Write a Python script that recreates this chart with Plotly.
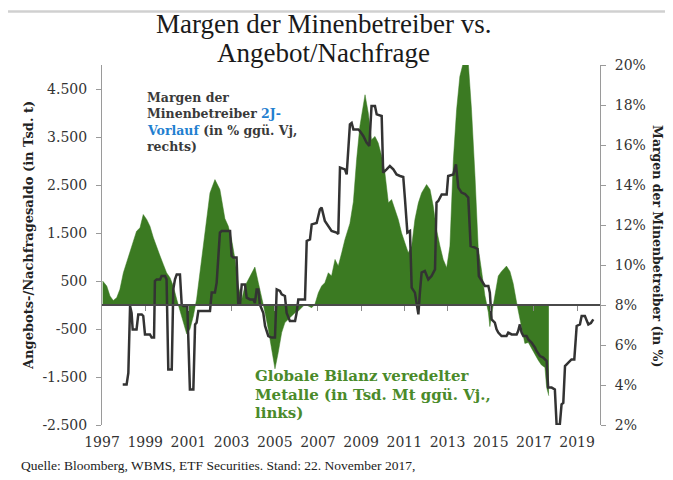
import plotly.graph_objects as go

# ---- data -------------------------------------------------------------
# Global balance of refined metals (thousand t, y/y), left axis
green_years = [1997.03, 1997.22, 1997.37, 1997.52, 1997.68, 1997.83, 1997.99, 1998.14, 1998.30, 1998.45,
               1998.60, 1998.76, 1998.91, 1999.07, 1999.22, 1999.38, 1999.53, 1999.69, 1999.84, 1999.99,
               2000.15, 2000.30, 2000.46, 2000.61, 2000.77, 2000.92, 2001.07, 2001.23, 2001.38, 2001.54,
               2001.69, 2001.85, 2002.00, 2002.23, 2002.46, 2002.69, 2002.85, 2003.00, 2003.16, 2003.31,
               2003.47, 2003.62, 2003.77, 2003.93, 2004.08, 2004.24, 2004.39, 2004.55, 2004.70, 2004.85,
               2005.01, 2005.16, 2005.32, 2005.47, 2005.63, 2005.78, 2005.94, 2006.09, 2006.24, 2006.40,
               2006.55, 2006.71, 2006.86, 2007.02, 2007.17, 2007.32, 2007.48, 2007.63, 2007.79, 2007.94,
               2008.10, 2008.25, 2008.48, 2008.64, 2008.79, 2008.94, 2009.18, 2009.33, 2009.48, 2009.64,
               2009.79, 2009.95, 2010.10, 2010.26, 2010.41, 2010.56, 2010.72, 2010.87, 2011.03, 2011.18,
               2011.34, 2011.49, 2011.65, 2011.80, 2012.03, 2012.19, 2012.34, 2012.49, 2012.65, 2012.80,
               2012.96, 2013.11, 2013.27, 2013.42, 2013.57, 2013.73, 2013.96, 2014.11, 2014.27, 2014.35,
               2014.42, 2014.58, 2014.73, 2014.89, 2014.96, 2015.04, 2015.12, 2015.19, 2015.35, 2015.50,
               2015.73, 2015.89, 2016.04, 2016.20, 2016.27, 2016.43, 2016.58, 2016.74, 2016.89, 2017.05,
               2017.20, 2017.35, 2017.51, 2017.59, 2017.66, 2017.69]
green_values = [500, 395, 187, 95, 152, 326, 672, 880, 1088, 1330,
                1538, 1608, 1885, 1781, 1642, 1400, 1192, 1019, 845, 672,
                568, 395, 118, -125, -367, -600, -506, -229, 118, 672,
                1227, 1850, 2335, 2612, 2405, 1800, 1640, 1365, 950, 395,
                118, 395, 534, 672, 790, 464, 187, -160, -506, -922,
                -1330, -991, -575, -367, -298, -229, -160, -125, -55, 14,
                -20, -55, 14, 256, 395, 464, 672, 603, 950, 810,
                1088, 1365, 1700, 2150, 3028, 3721, 4380, 4000, 3444, 3513,
                3375, 3098, 2751, 2128, 2197, 1989, 1781, 1504, 1261, 1088,
                1227, 1781, 2128, 2335, 2509, 2405, 2058, 1573, 1227, 950,
                776, 1227, 3028, 4068, 4760, 5050, 5050, 4068, 2700, 1800,
                1200, 700, 200, -150, -450, -200, 0, 200, 603, 700,
                810, 700, 450, 50, -100, -437, -800, -780, -900, -1050,
                -1150, -1250, -1300, -1719, -1892, -1892]

# Mining margins, 2-year lead (% y/y), right axis
margin_years = [1997.96, 1998.14, 1998.22, 1998.30, 1998.37, 1998.42, 1998.60, 1998.68, 1998.84, 1998.91,
                1998.99, 1999.22, 1999.30, 1999.41, 1999.45, 1999.53, 1999.69, 1999.76, 1999.92, 1999.99,
                2000.07, 2000.23, 2000.30, 2000.38, 2000.46, 2000.61, 2000.69, 2000.77, 2000.95, 2001.00,
                2001.07, 2001.23, 2001.31, 2001.38, 2001.46, 2002.00, 2002.08, 2002.23, 2002.31, 2002.46,
                2002.54, 2002.93, 2003.00, 2003.08, 2003.23, 2003.31, 2003.39, 2003.47, 2003.62, 2003.70,
                2003.85, 2004.01, 2004.08, 2004.16, 2004.24, 2004.31, 2004.47, 2004.55, 2004.70, 2004.85,
                2005.01, 2005.09, 2005.24, 2005.32, 2005.47, 2005.55, 2005.70, 2005.94, 2006.01, 2006.09,
                2006.40, 2006.48, 2006.63, 2006.71, 2006.94, 2007.09, 2007.17, 2007.32, 2007.48, 2007.63,
                2007.86, 2007.94, 2008.02, 2008.25, 2008.33, 2008.48, 2008.56, 2008.64, 2008.87, 2008.94,
                2009.10, 2009.25, 2009.38, 2009.48, 2009.64, 2009.72, 2009.95, 2010.02, 2010.18, 2010.33,
                2010.49, 2010.64, 2010.80, 2010.95, 2011.03, 2011.14, 2011.26, 2011.34, 2011.49, 2011.57,
                2011.65, 2011.72, 2011.80, 2011.95, 2012.11, 2012.26, 2012.42, 2012.49, 2012.57, 2012.73,
                2012.96, 2013.03, 2013.27, 2013.39, 2013.50, 2013.65, 2013.81, 2013.96, 2014.07, 2014.27,
                2014.39, 2014.45, 2014.58, 2014.73, 2014.89, 2014.96, 2015.04, 2015.19, 2015.27, 2015.35,
                2015.50, 2015.73, 2015.81, 2015.97, 2016.20, 2016.27, 2016.35, 2016.43, 2016.51, 2016.66,
                2016.74, 2016.89, 2017.05, 2017.12, 2017.28, 2017.43, 2017.59, 2017.66, 2017.82, 2017.97,
                2018.05, 2018.20, 2018.28, 2018.36, 2018.44, 2018.59, 2018.74, 2018.87, 2018.98, 2019.13,
                2019.21, 2019.36, 2019.44, 2019.52, 2019.64, 2019.75]
margin_values = [4.03, 4.03, 4.6, 7.95, 7.6, 6.78, 6.78, 7.53, 7.53, 7.45,
                 6.53, 6.53, 6.37, 6.37, 9.2, 9.28, 9.28, 9.45, 9.45, 9.28,
                 4.78, 4.78, 8.78, 9.28, 9.53, 9.53, 8.03, 7.95, 7.95, 6.0,
                 3.78, 3.78, 7.03, 7.12, 7.7, 7.7, 8.62, 8.62, 9.12, 11.62,
                 11.7, 11.7, 10.45, 10.37, 10.37, 8.03, 8.03, 9.03, 9.03, 8.37,
                 8.28, 8.28, 8.1, 8.78, 8.78, 8.03, 7.6, 6.95, 6.45, 6.37,
                 6.37, 8.78, 8.7, 8.53, 8.45, 7.6, 7.2, 7.2, 7.6, 8.28,
                 8.28, 11.2, 11.28, 12.03, 12.1, 12.78, 12.87, 12.2, 11.95, 11.7,
                 11.62, 11.55, 14.87, 14.78, 14.53, 17.03, 17.1, 16.78, 16.78, 16.7,
                 16.45, 16.12, 15.95, 17.95, 17.95, 17.53, 17.45, 14.62, 14.78, 14.95,
                 14.78, 14.53, 14.45, 14.4, 13.28, 11.62, 11.7, 8.87, 8.62, 8.0,
                 7.53, 8.62, 9.62, 9.7, 9.28, 9.45, 9.78, 13.12, 13.2, 13.53,
                 13.53, 14.45, 14.53, 15.03, 13.87, 13.62, 13.55, 13.37, 10.95, 10.87,
                 10.8, 9.45, 9.2, 8.95, 8.95, 8.62, 7.28, 7.12, 6.78, 6.62,
                 6.45, 6.45, 6.62, 6.53, 6.53, 6.7, 7.03, 6.62, 6.45, 6.45,
                 6.28, 6.12, 5.87, 5.7, 5.45, 5.37, 5.2, 3.87, 3.87, 3.78,
                 2.03, 2.03, 3.03, 3.1, 4.95, 5.12, 5.28, 5.28, 6.95, 7.03,
                 7.45, 7.45, 7.2, 7.03, 7.1, 7.28]

year_ticks = list(range(1997, 2020, 2))
year_tick_text = [str(y) for y in year_ticks]
left_ticks = [-2500, -1500, -500, 500, 1500, 2500, 3500, 4500]
left_tick_text = ["-2.500", "-1.500", "-500", "500", "1.500", "2.500", "3.500", "4.500"]
right_ticks = list(range(2, 21, 2))
right_tick_text = [f"{v}%" for v in right_ticks]

x_range = [1997, 2020.06]
left_range = [-2500, 5000]
right_range = [2, 20]

# ---- styles -------------------------------------------------------------
GREEN = "#3b7a22"
GREEN_TXT = "#4a8a2a"
DARK = "#333333"
BLUE = "#1f80d0"
AXIS = "#9a9a9a"
TICK_FONT = dict(family="DejaVu Serif", size=14, color="#333333")
SERIF = "Liberation Serif"
BOLD_SERIF = "DejaVu Serif"

fig = go.Figure()

fig.add_trace(go.Scatter(
    x=green_years, y=green_values, mode="lines", fill="tozeroy",
    fillcolor=GREEN, line=dict(color=GREEN, width=0.5),
    hoverinfo="skip", showlegend=False))

# invisible helper on x2 so the zero-line axis is drawn
fig.add_trace(go.Scatter(
    x=[year_ticks[0], year_ticks[-1]], y=[0, 0], xaxis="x2", yaxis="y",
    mode="lines", line=dict(width=0), hoverinfo="skip", showlegend=False))

fig.add_trace(go.Scatter(
    x=margin_years, y=margin_values, yaxis="y2", mode="lines",
    line=dict(color=DARK, width=2.5), hoverinfo="skip", showlegend=False))

# the page body adds an 8px offset, so the figure is drawn 8px smaller
fig.update_layout(
    width=665, height=472,
    margin=dict(l=94, r=73, t=57, b=55),
    paper_bgcolor="white", plot_bgcolor="white",
    showlegend=False,
    xaxis=dict(range=x_range, tickvals=year_ticks, ticktext=year_tick_text,
               showgrid=False, zeroline=False, showline=False, ticks="",
               tickfont=TICK_FONT, ticklabelstandoff=7),
    xaxis2=dict(range=x_range, overlaying="x", anchor="free", position=1/3,
                tickvals=year_ticks[1:], showticklabels=False,
                showgrid=False, zeroline=False, showline=True,
                linecolor="#4a4a4a", linewidth=1.5, ticks="outside",
                ticklen=5, tickcolor="#8a8a8a", layer="above traces"),
    yaxis=dict(range=left_range, tickvals=left_ticks, ticktext=left_tick_text,
               showgrid=False, zeroline=False, showline=True,
               linecolor=AXIS, linewidth=1, ticks="outside", ticklen=5,
               tickcolor=AXIS, tickfont=TICK_FONT, ticklabelstandoff=6),
    yaxis2=dict(range=right_range, tickvals=right_ticks, ticktext=right_tick_text,
                overlaying="y", side="right", anchor="x",
                showgrid=False, zeroline=False, showline=True,
                linecolor=AXIS, linewidth=1, ticks="outside", ticklen=5,
                tickcolor=AXIS, tickfont=TICK_FONT, ticklabelstandoff=6),
)

ann = []
def text(x, y, s, size, color="#222222", bold=False, xanchor="left", angle=0, family=SERIF):
    if bold:
        s = f"<b>{s}</b>"
    ann.append(dict(x=x, y=y, xref="paper", yref="paper", text=s, showarrow=False,
                    xanchor=xanchor, yanchor="middle", textangle=angle,
                    font=dict(family=family, size=size, color=color)))

# title
text(0.444, 1.1125, "Margen der Minenbetreiber vs.", 27, "#1a1a1a", xanchor="center")
text(0.444, 1.0347, "Angebot/Nachfrage", 27, "#1a1a1a", xanchor="center")

# margin series label
blk = "#3a3a3a"
text(0.0863, 0.9106, "Margen der", 12.5, blk, bold=True, family=BOLD_SERIF)
text(0.0863, 0.8653, f"Minenbetreiber <span style='color:{BLUE}'>2J-</span>", 12.5, blk,
     bold=True, family=BOLD_SERIF)
text(0.0863, 0.8189, f"<span style='color:{BLUE}'>Vorlauf</span> (in % ggü. Vj,", 12.5, blk,
     bold=True, family=BOLD_SERIF)
text(0.0863, 0.7728, "rechts)", 12.5, blk, bold=True, family=BOLD_SERIF)

# balance series label
text(0.3038, 0.1356, "Globale Bilanz veredelter", 15, GREEN_TXT, bold=True, family=BOLD_SERIF)
text(0.3038, 0.0847, "Metalle (in Tsd. Mt ggü. Vj.,", 15, GREEN_TXT, bold=True, family=BOLD_SERIF)
text(0.3038, 0.0339, "links)", 15, GREEN_TXT, bold=True, family=BOLD_SERIF)

# axis titles
text(-0.1466, 0.5278, "Angebots-/Nachfragesaldo (in Tsd. t)", 13, "#222222",
     bold=True, xanchor="center", angle=-90, family=BOLD_SERIF)
text(1.1165, 0.497, "Margen der Minenbetreiber (in %)", 12.5, "#222222",
     bold=True, xanchor="center", angle=90, family=BOLD_SERIF)

# source
text(-0.1667, -0.1125, "Quelle: Bloomberg, WBMS, ETF Securities. Stand: 22. November 2017,",
     13.5, "#222222")

fig.update_layout(annotations=ann)

fig.add_shape(type="line", xref="paper", yref="paper",
              x0=-0.1888, x1=1.1466, y0=1.1486, y1=1.1486,
              line=dict(color="#d0d0d0", width=2.5))

fig.write_html("out.html")
